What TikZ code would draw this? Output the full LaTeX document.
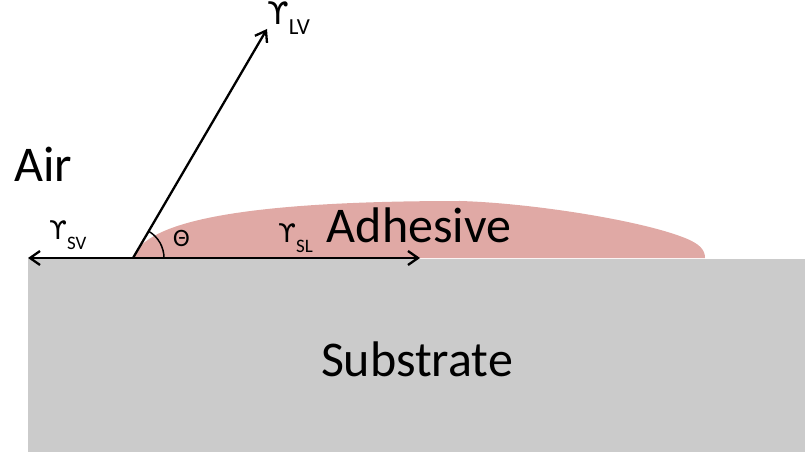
\documentclass[tikz,border=0pt]{standalone}
\usepackage{fontspec}
\setmainfont{Carlito}
\newfontfamily\upsfont{DejaVu Sans}
\usepackage{xcolor}
\usetikzlibrary{arrows.meta}

\definecolor{substrategray}{HTML}{CBCBCB}
\definecolor{adhesivepink}{HTML}{E0A9A5}
% surface tension symbol, subscript set in the node font
\newcommand{\tension}[2][0.5em]{{\upsfont\scalebox{1.35}{ϒ}}\raisebox{-#1}{#2}}

\begin{document}
\begin{tikzpicture}[x=1pt, y=-1pt,
    arr/.style={-{Straight Barb[length=10pt, width=14pt]}, line width=2.3pt},
    lbl/.style={anchor=base west, inner sep=0pt, font=\fontsize{50}{58}\selectfont},
    tens/.style={anchor=base west, inner sep=0pt, font=\fontsize{19}{22}\selectfont},
]
\useasboundingbox (0,0) rectangle (805,454);
% substrate and drop
\fill[substrategray] (28,259) rectangle (805,452);
\fill[adhesivepink] (133,258) .. controls (145,220) and (250,201) .. (460,201)
    .. controls (530,203) and (640,220) .. (685,238)
    .. controls (700,244) and (705,250) .. (705,258) -- cycle;
% forces at the contact line
\coordinate (contact) at (133,258);
\coordinate (svEnd) at (28,258);
\coordinate (slEnd) at (420,258);
\coordinate (lvEnd) at (267,29);
\draw[arr] (contact) -- (svEnd);
\draw[arr] (contact) -- (slEnd);
\draw[arr] (contact) -- (lvEnd);
\draw[line width=1.5pt] ([xshift=31pt]contact) arc[start angle=0, end angle=59.7, radius=31pt];
% labels
\node[lbl] (air) at (14,182) {Air};
\node[lbl, anchor=base] (adhesive) at (419,243) {Adhesive};
\node[lbl, anchor=base] (substrate) at (417,376) {Substrate};
\node[tens] (sv) at (49,240) {\tension{SV}};
\node[tens] (sl) at (278,243) {\tension{SL}};
\node[tens, font=\fontsize{23}{27}\selectfont] (lv) at (267,25) {\tension[0.4em]{LV}};
\node[inner sep=0pt, font=\fontsize{25}{29}\selectfont] (theta) at (181.5,238.5) {Θ};
\end{tikzpicture}
\end{document}
